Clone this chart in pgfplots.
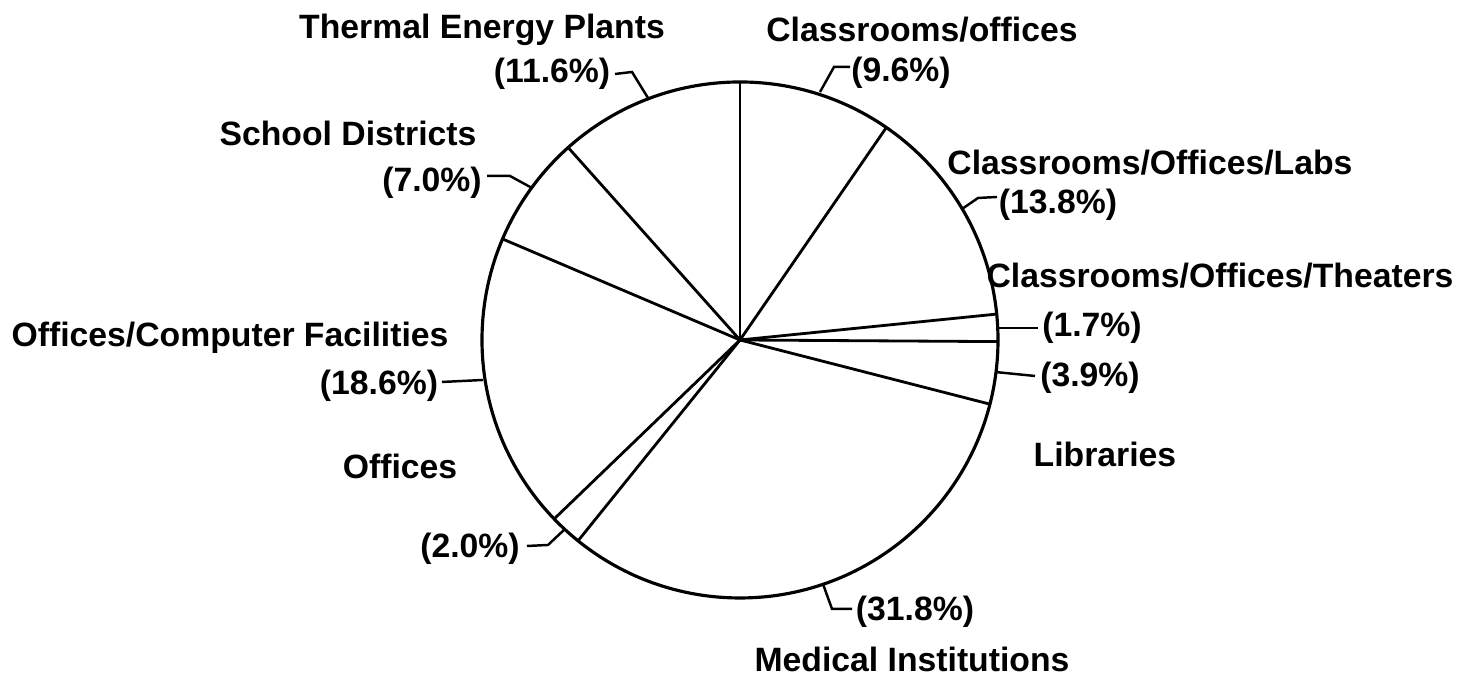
\documentclass[border=0pt]{standalone}
\usepackage{pgfplots}
\pgfplotsset{compat=1.18}
\usepackage{fontspec}
\setmainfont{Liberation Sans}
\tikzset{
  lbl/.style={font=\fontsize{9.6}{11}\selectfont\bfseries, inner sep=0pt, anchor=center},
  rad/.style={black, solid, line width=0.8pt, mark=none},
  lead/.style={black, solid, line width=0.7pt, mark=none},
}
\begin{document}
\begin{tikzpicture}
% slice shares (%), clockwise from 12 o'clock:
% 9.6, 13.8, 1.7, 3.9, 31.8, 2.0, 18.6, 7.0, 11.6
% boundary angles (math convention) = 90 - 3.6*cumulative share
\begin{axis}[
  scale only axis, width=14.78cm, height=6.82cm,
  xmin=-740, xmax=738, ymin=-342, ymax=340,
  hide axis, clip=false,
]
\draw[line width=0.9pt] (axis cs:0,0) circle[radius=258];
\addplot[rad, data cs=polar] coordinates {(90,0) (90,258)};
\addplot[rad, data cs=polar] coordinates {(55.44,0) (55.44,258)};
\addplot[rad, data cs=polar] coordinates {(5.76,0) (5.76,258)};
\addplot[rad, data cs=polar] coordinates {(-0.36,0) (-0.36,258)};
\addplot[rad, data cs=polar] coordinates {(-14.4,0) (-14.4,258)};
\addplot[rad, data cs=polar] coordinates {(-128.88,0) (-128.88,258)};
\addplot[rad, data cs=polar] coordinates {(-136.08,0) (-136.08,258)};
\addplot[rad, data cs=polar] coordinates {(-203.04,0) (-203.04,258)};
\addplot[rad, data cs=polar] coordinates {(-228.24,0) (-228.24,258)};
% leader lines
\addplot[lead] coordinates {(-125,266) (-108,268) (-92,242)};
\addplot[lead] coordinates {(110,273) (94,273) (80,248)};
\addplot[lead] coordinates {(-253,164) (-230,164) (-208,152)};
\addplot[lead] coordinates {(257,143) (238,142) (222,131)};
\addplot[lead] coordinates {(258,12) (298,12)};
\addplot[lead] coordinates {(255,-32) (295,-36)};
\addplot[lead] coordinates {(-298,-42) (-257,-40)};
\addplot[lead] coordinates {(-213,-206) (-192,-205) (-175,-189)};
\addplot[lead] coordinates {(112,-269) (92,-269) (83,-244)};
% labels
\node[lbl] at (axis cs:-258,310) {Thermal Energy Plants};
\node[lbl] at (axis cs:-188,266) {(11.6\%)};
\node[lbl] at (axis cs:182,310) {Classrooms/offices};
\node[lbl] at (axis cs:161,267) {(9.6\%)};
\node[lbl] at (axis cs:-392,207) {School Districts};
\node[lbl] at (axis cs:-308,157) {(7.0\%)};
\node[lbl] at (axis cs:410,177) {Classrooms/Offices/Labs};
\node[lbl] at (axis cs:318,135) {(13.8\%)};
\node[lbl] at (axis cs:480,64) {Classrooms/Offices/Theaters};
\node[lbl] at (axis cs:352,12) {(1.7\%)};
\node[lbl] at (axis cs:350,-38) {(3.9\%)};
\node[lbl] at (axis cs:365,-114) {Libraries};
\node[lbl] at (axis cs:-510,2) {Offices/Computer Facilities};
\node[lbl] at (axis cs:-361,-46) {(18.6\%)};
\node[lbl] at (axis cs:-340,-126) {Offices};
\node[lbl] at (axis cs:-270,-209) {(2.0\%)};
\node[lbl] at (axis cs:175,-272) {(31.8\%)};
\node[lbl] at (axis cs:172,-319) {Medical Institutions};
\end{axis}
\pgfresetboundingbox
\path[use as bounding box] (current axis.south west) rectangle (current axis.north east);
\end{tikzpicture}
\end{document}
